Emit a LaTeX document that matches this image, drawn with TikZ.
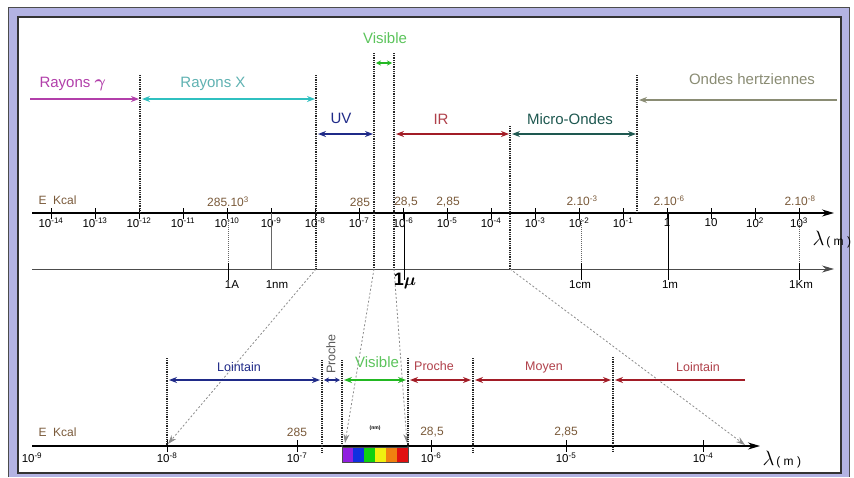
\documentclass[tikz,border=0pt]{standalone}
\usepackage{amsmath,amssymb}
\usepackage{fontspec}
\setmainfont{Liberation Sans}
\usetikzlibrary{arrows.meta, calc}
\definecolor{framelav}{HTML}{B3B3E3}
\definecolor{gammamag}{HTML}{B23FAA}
\definecolor{xcyan}{HTML}{2FC0C0}
\definecolor{xtext}{HTML}{5FB2B2}
\definecolor{uvnavy}{HTML}{1F2A88}
\definecolor{visgreen}{HTML}{22B822}
\definecolor{vistext}{HTML}{5CC45C}
\definecolor{irred}{HTML}{A21C26}
\definecolor{irtext}{HTML}{B0404A}
\definecolor{mwteal}{HTML}{1E5850}
\definecolor{hzolive}{HTML}{8A8C74}
\definecolor{ekcal}{HTML}{7A5A3A}
\definecolor{projgray}{HTML}{8C8C8C}
\definecolor{specviolet}{HTML}{9020E0}
\definecolor{specblue}{HTML}{1030E0}
\definecolor{specgreen}{HTML}{10D010}
\definecolor{specyellow}{HTML}{F0F010}
\definecolor{specorange}{HTML}{F08010}
\definecolor{specred}{HTML}{E01010}

\begin{document}
\begin{tikzpicture}[x=1pt, y=-1pt,
  bound/.style={black!85, line width=1.3pt, dash pattern=on 1pt off 0.8pt},
  thindot/.style={black!60, line width=0.6pt, dash pattern=on 1pt off 1pt},
  proj/.style={projgray, line width=0.8pt, dash pattern=on 2pt off 2pt, -{Stealth[length=9pt, width=6pt]}},
  band/.style={line width=1.3pt, {Stealth[length=8pt, width=6pt]}-{Stealth[length=8pt, width=6pt]}},
  bandsm/.style={line width=1.3pt, {Stealth[length=5pt, width=5pt]}-{Stealth[length=5pt, width=5pt]}},
  oneway/.style={line width=1.3pt, -{Stealth[length=8pt, width=6pt]}},
  axis/.style={black, line width=1.3pt, -{Stealth[length=12pt, width=7pt]}},
  tk/.style={black, line width=1pt},
  big/.style={font=\fontsize{15}{16}\selectfont},
  mid/.style={font=\fontsize{12.5}{13}\selectfont},
  num/.style={font=\fontsize{11.5}{12}\selectfont},
  en/.style={font=\fontsize{12}{13}\selectfont, text=ekcal}]

% Frame
\useasboundingbox (0,0) rectangle (854,477);
\fill[white] (0,0) rectangle (854,477);
\fill[framelav] (8,7) rectangle (849,477);
\draw[black!70, line width=1pt] (8,477) -- (8,7) -- (849,7) -- (849,477);
\fill[white] (18,17) rectangle (841,473);
\draw[black!80, line width=1.2pt] (18,17) rectangle (841,473);

% Upper scale
\draw[axis] (32,213) -- (834,213);
\foreach \k in {-14,...,3} {
  \draw[tk] ({51+44*(\k+14)},208) -- ++(0,11);
}
\foreach \k in {-14,...,-1} {
  \node[num] (tl\k) at ({51+44*(\k+14)},223) {10\textsuperscript{\k}};
}
\node[num] (tl0) at (667,223) {1};
\node[num] (tl1) at (711,223) {10};
\node[num] (tl2) at (755,223) {10\textsuperscript{2}};
\node[num] (tl3) at (799,223) {10\textsuperscript{3}};
\node[anchor=west] (lamA) at (809,240) {\fontsize{22}{22}\selectfont$\lambda$\fontsize{12}{12}\selectfont\,( m )};

% Energies
\node[en, anchor=west] (ekA) at (35,200) {E\ \ Kcal};
\node[en] (ea1) at (228,202) {285.10\textsuperscript{3}};
\node[en] (ea2) at (360,202) {285};
\node[en] (ea3) at (406,202) {28,5};
\node[en] (ea4) at (448,202) {2,85};
\node[en] (ea5) at (582,201) {2.10\textsuperscript{-3}};
\node[en] (ea6) at (669,201) {2.10\textsuperscript{-6}};
\node[en] (ea7) at (800,201) {2.10\textsuperscript{-8}};

% Units scale
\draw[black!70, line width=0.9pt, -{Stealth[length=12pt, width=7pt]}] (32,269) -- (834,269);
\foreach \x in {228,581,799} {
  \draw[thindot] (\x,219) -- (\x,263);
  \draw[tk] (\x,263) -- (\x,280);
}
\draw[black!60, line width=0.6pt] (271,213) -- (271,269);
\draw[tk, line width=0.8pt] (404,213) -- (404,280);
\draw[tk, line width=0.8pt] (668,213) -- (668,280);
\node[num] (uA) at (232,285) {1A};
\node[num] (unm) at (277,285) {1nm};
\node (umu) at (405,281) {\fontsize{18}{18}\selectfont$\mathbf{1}\boldsymbol{\mu}$};
\node[num] (ucm) at (580,285) {1cm};
\node[num] (um) at (670,285) {1m};
\node[num] (ukm) at (801,285) {1Km};

% Upper boundaries
\draw[bound] (140,75) -- (140,213);
\draw[bound] (316,75) -- (316,269);
\draw[bound] (374,53) -- (374,269);
\draw[bound] (394,53) -- (394,269);
\draw[bound] (510,126) -- (510,269);
\draw[bound] (637,75) -- (637,213);

% Upper domains
\draw[oneway, gammamag] (30,99) -- (139,99);
\node[big, text=gammamag, anchor=west] (gam) at (36,84) {Rayons \fontsize{19}{19}\selectfont$\boldsymbol{\gamma}$};
\draw[band, xcyan] (142,99) -- (315,99);
\node[big, text=xtext] (rx) at (213,84) {Rayons X};
\draw[band, uvnavy] (318,134) -- (373,134);
\node[big, text=uvnavy] (uv) at (341,118) {UV};
\draw[bandsm, visgreen] (376,63) -- (392,63);
\node[big, text=vistext] (vis) at (385,38) {Visible};
\draw[band, irred] (396,134) -- (509,134);
\node[big, text=irtext] (ir) at (441,119) {IR};
\draw[band, mwteal] (512,134) -- (636,134);
\node[big, text=mwteal] (mw) at (570,119) {Micro-Ondes};
\draw[oneway, hzolive] (837,100) -- (639,100);
\node[big, text=hzolive] (hz) at (752,79) {Ondes hertziennes};

% Projections to the zoomed scale
\coordinate (pA) at (316,269);
\coordinate (qA) at (168,444);
\coordinate (pB) at (374,269);
\coordinate (qB) at (345,443);
\coordinate (pC) at (394,269);
\coordinate (qC) at (407,443);
\coordinate (pD) at (510,269);
\coordinate (qD) at (745,445);
\draw[proj] (pA) -- (qA);
\draw[proj] (pB) -- (qB);
\draw[proj] (pC) -- (qC);
\draw[proj] (pD) -- (qD);

% Lower scale
\draw[axis] (32,446) -- (760,446);
\foreach \x in {167,297,431,566,703} {
  \draw[tk] (\x,440) -- (\x,452);
}
\foreach \x/\k in {32/-9,167/-8,297/-7,431/-6,566/-5,703/-4} {
  \node[num] (bl\k) at (\x,458) {10\textsuperscript{\k}};
}
\node[anchor=west] (lamB) at (759,460) {\fontsize{22}{22}\selectfont$\lambda$\fontsize{12}{12}\selectfont\,( m )};
\node[en, anchor=west] (ekB) at (35,432) {E\ \ Kcal};
\node[en] (eb1) at (297,432) {285};
\node[en] (eb2) at (432,432) {28,5};
\node[en] (eb3) at (566,432) {2,85};

% Visible spectrum
\foreach \c [count=\i from 0] in {specviolet,specblue,specgreen,specyellow,specorange,specred} {
  \fill[\c] ({342+11*\i},447) rectangle ++(11,15);
}
\draw[black!70, line width=0.6pt] (342,447) rectangle (408,462);
\node[font=\fontsize{5}{5}\selectfont\bfseries] (nm) at (375,428) {(nm)};

% Lower boundaries
\draw[bound] (167,358) -- (167,446);
\draw[bound] (322,360) -- (322,452);
\draw[bound] (342,360) -- (342,447);
\draw[bound] (408,358) -- (408,447);
\draw[bound] (473,358) -- (473,452);
\draw[bound] (613,357) -- (613,452);

% Lower domains
\draw[band, uvnavy] (169,380) -- (320,380);
\node[mid, text=uvnavy] (lnA) at (239,367) {Lointain};
\draw[bandsm, uvnavy] (324,380) -- (340,380);
\node[mid, text=black!65, rotate=90] (prA) at (331,354) {Proche};
\draw[band, visgreen] (344,380) -- (406,380);
\node[big, text=vistext] (visB) at (377,362) {Visible};
\draw[band, irred] (410,380) -- (471,380);
\node[mid, text=irtext] (prB) at (434,366) {Proche};
\draw[band, irred] (475,380) -- (611,380);
\node[mid, text=irtext] (moy) at (544,367) {Moyen};
\draw[oneway, irred] (745,380) -- (615,380);
\node[mid, text=irtext] (lnB) at (698,367) {Lointain};

\end{tikzpicture}
\end{document}
